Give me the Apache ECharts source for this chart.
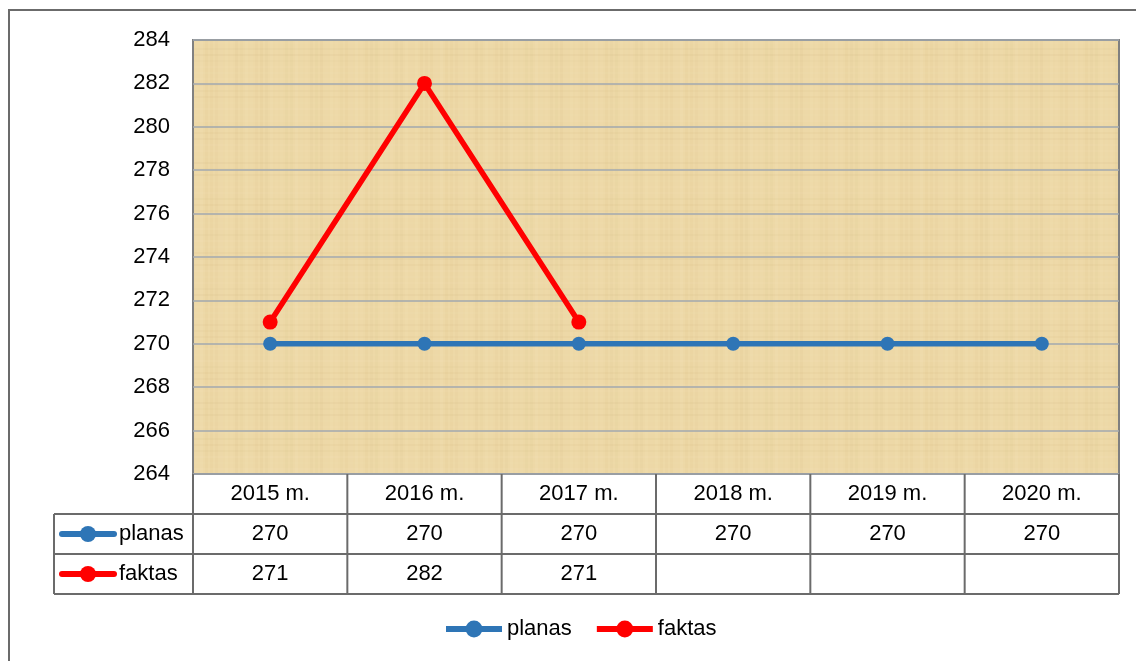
<!DOCTYPE html>
<html>
<head>
<meta charset="utf-8">
<script src="https://cdn.jsdelivr.net/npm/echarts@6/dist/echarts.min.js"></script>
<style>
html, body { margin: 0; padding: 0; background: #fff; }
#main { width: 1136px; height: 661px; }
</style>
</head>
<body>
<div id="main"></div>
<script>
// data
const years = ['2015 m.', '2016 m.', '2017 m.', '2018 m.', '2019 m.', '2020 m.'];
const planas = [270, 270, 270, 270, 270, 270];
const faktas = [271, 282, 271, null, null, null];
const seriesNames = ['planas', 'faktas'];
const seriesColors = ['#2E75B6', '#FF0000'];

// layout
const FONT = '"Liberation Sans", Arial, sans-serif';
const FS = 22;
const G = { left: 193, right: 1119, top: 40, bottom: 474 };
const ROW_H = 40;
const KEY_LEFT = 54;

// papyrus-ish texture for the plot area
function makeTexture() {
    const c = document.createElement('canvas');
    c.width = 240; c.height = 240;
    const ctx = c.getContext('2d');
    ctx.fillStyle = '#EDD8A6';
    ctx.fillRect(0, 0, 240, 240);
    for (let x = 0; x < 240; x += 5) {
        const a = 0.04 + 0.05 * Math.abs(Math.sin(x * 0.37) * Math.cos(x * 0.11));
        ctx.fillStyle = (Math.sin(x * 0.23) > 0) ? 'rgba(255,242,210,' + a + ')' : 'rgba(200,170,110,' + a + ')';
        ctx.fillRect(x, 0, 3, 240);
    }
    for (let y = 0; y < 240; y += 6) {
        const a = 0.03 + 0.04 * Math.abs(Math.cos(y * 0.29));
        ctx.fillStyle = (Math.cos(y * 0.17) > 0) ? 'rgba(255,245,215,' + a + ')' : 'rgba(190,160,100,' + a + ')';
        ctx.fillRect(0, y, 240, 2);
    }
    return c;
}

const chart = echarts.init(document.getElementById('main'));

const option = {
    animation: false,
    textStyle: { fontFamily: FONT },
    grid: {
        left: G.left, right: 1136 - G.right, top: G.top, bottom: 661 - G.bottom,
        show: true,
        backgroundColor: { image: makeTexture(), repeat: 'repeat' },
        borderColor: '#808080',
        borderWidth: 2
    },
    legend: {
        bottom: 16,
        left: 438,
        itemWidth: 56,
        itemHeight: 21,
        itemGap: 22,
        lineStyle: { width: 6 },
        textStyle: { fontSize: FS, color: '#000', fontFamily: FONT },
        data: seriesNames
    },
    xAxis: {
        type: 'category',
        data: years,
        boundaryGap: true,
        axisLine: { show: false },
        axisTick: { show: false },
        axisLabel: { fontSize: FS, color: '#000', margin: 9, fontFamily: FONT }
    },
    yAxis: {
        type: 'value',
        min: 264, max: 284, interval: 2,
        axisLine: { show: false },
        axisTick: { show: false },
        axisLabel: { fontSize: FS, color: '#000', margin: 23, fontFamily: FONT },
        splitLine: { lineStyle: { color: '#A2A9AF', width: 1.5 } }
    },
    series: [
        {
            name: seriesNames[0], type: 'line', data: planas,
            symbol: 'circle', symbolSize: 14,
            color: seriesColors[0],
            lineStyle: { width: 5.5 }
        },
        {
            name: seriesNames[1], type: 'line', data: faktas,
            symbol: 'circle', symbolSize: 15,
            color: seriesColors[1],
            lineStyle: { width: 5.5 }
        }
    ]
};
chart.setOption(option);

// data table under the plot, plus the outer chart border
function buildTable() {
    const els = [];
    const lineStyle = { stroke: '#6B6B6B', lineWidth: 2 };
    const colW = (G.right - G.left) / years.length;
    const tableBottom = G.bottom + ROW_H * 3;

    els.push({ type: 'rect', shape: { x: 9, y: 10, width: 1200, height: 700 },
        style: { fill: null, stroke: '#6B6B6B', lineWidth: 2 }, silent: true, z: 0 });

    for (let i = 0; i <= years.length; i++) {
        const x = G.left + i * colW;
        els.push({ type: 'line', shape: { x1: x, y1: G.bottom, x2: x, y2: tableBottom }, style: lineStyle });
    }
    els.push({ type: 'line', shape: { x1: KEY_LEFT, y1: G.bottom + ROW_H, x2: KEY_LEFT, y2: tableBottom }, style: lineStyle });
    for (let r = 1; r <= 3; r++) {
        const y = G.bottom + r * ROW_H;
        els.push({ type: 'line', shape: { x1: KEY_LEFT, y1: y, x2: G.right, y2: y }, style: lineStyle });
    }

    const rows = [planas, faktas];
    rows.forEach((vals, r) => {
        const cy = G.bottom + ROW_H * (r + 1.5);
        // legend key in the table
        els.push({ type: 'line', shape: { x1: 62, y1: cy, x2: 114, y2: cy },
            style: { stroke: seriesColors[r], lineWidth: 6, lineCap: 'round' } });
        els.push({ type: 'circle', shape: { cx: 88, cy: cy, r: 8 }, style: { fill: seriesColors[r] } });
        els.push({ type: 'text', x: 119, y: cy,
            style: { text: seriesNames[r], fontSize: FS, fontFamily: FONT, fill: '#000', align: 'left', verticalAlign: 'middle' } });
        vals.forEach((v, i) => {
            if (v == null) return;
            const cx = chart.convertToPixel({ xAxisIndex: 0 }, years[i]);
            els.push({ type: 'text', x: cx, y: cy,
                style: { text: String(v), fontSize: FS, fontFamily: FONT, fill: '#000', align: 'center', verticalAlign: 'middle' } });
        });
    });
    return els;
}

chart.setOption({ graphic: { elements: buildTable() } });
</script>
</body>
</html>
